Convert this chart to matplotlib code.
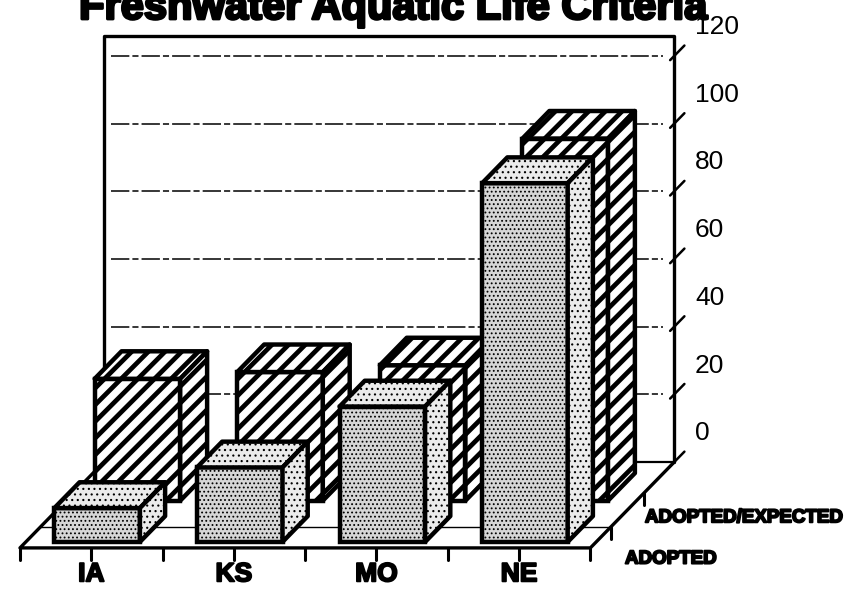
import matplotlib
matplotlib.use("Agg")
import matplotlib.pyplot as plt
import matplotlib.patheffects as pe
from matplotlib.patches import Polygon


states = ["IA", "KS", "MO", "NE"]
adopted = [10, 22, 40, 106]
adopted_expected = [36, 38, 40, 107]
row_labels = ["ADOPTED", "ADOPTED/EXPECTED"]
y_ticks = [0, 20, 40, 60, 80, 100, 120]
title = "Freshwater Aquatic Life Criteria"

# oblique projection: shift for one unit of depth (x in categories, y in values)
DX, DY = 0.589, 25.4
WALL_TOP = 126
BAR_W = 0.6

plt.rcParams["font.family"] = ["Liberation Sans", "DejaVu Sans"]
plt.rcParams["hatch.linewidth"] = 0.8

fig = plt.figure(figsize=(8.57, 5.98), dpi=100)
ax = fig.add_axes([0, 0, 1, 1])
ax.set_xlim(-0.64, 5.37)
ax.set_ylim(-14.8, 161.9)
ax.axis("off")


def P(x, y, z):
    return (x + DX * z, y + DY * z)


def line3(pts, **kw):
    xy = [P(*p) for p in pts]
    kw.setdefault("color", "black")
    ax.plot([a for a, b in xy], [b for a, b in xy], solid_capstyle="round", **kw)


def hatch_lw(patch, lw):
    try:
        patch.set_hatch_linewidth(lw)
    except AttributeError:
        pass


# back wall
for v in y_ticks[1:]:
    line3([(-0.45, v, 1), (3.42, v, 1)], lw=1.1, ls=(0, (12, 2, 4, 2)), zorder=1)
line3([(-0.5, 0, 1), (-0.5, WALL_TOP, 1), (3.5, WALL_TOP, 1), (3.5, 0, 1)],
      lw=2.4, zorder=2, solid_joinstyle="round")
for v in y_ticks:
    line3([(3.5, v, 0.95), (3.5, v, 1.12)], lw=1.8, zorder=2)
    x, y = P(3.5 + 0.145, v + 8.5, 1)
    ax.text(x, y, str(v), ha="left", va="center", fontsize=19, zorder=2)

# floor
floor = [P(-0.5, 0, 0), P(3.5, 0, 0), P(3.5, 0, 1), P(-0.5, 0, 1)]
ax.add_patch(Polygon(floor, closed=True, facecolor="white", edgecolor="none", zorder=1.5))
line3([(-0.5, 0, 1), (3.5, 0, 1)], lw=1.6, zorder=1.6)
line3([(-0.5, 0, 0.24), (3.5, 0, 0.24)], lw=1.0, zorder=1.6)
line3([(-0.5, 0, 1), (-0.5, 0, 0), (3.5, 0, 0), (3.5, 0, 1)], lw=2.4, zorder=1.7,
      solid_joinstyle="round")
for i in range(2 * len(states) + 1):
    x = -0.5 + 0.5 * i
    line3([(x, 0, 0), (x, -3.6, 0)], lw=2.2, zorder=1.7)
for z in [0.245, 0.64]:
    line3([(3.5, 0, z), (3.5, -3.6, z)], lw=2.2, zorder=1.7)


def box(xc, h, z0, z1, style, zo):
    x0, x1 = xc - BAR_W / 2, xc + BAR_W / 2
    top = [P(x0, h, z0), P(x1, h, z0), P(x1, h, z1), P(x0, h, z1)]
    side = [P(x1, 0, z0), P(x1, 0, z1), P(x1, h, z1), P(x1, h, z0)]
    if style == "dots":
        faces = [("#d6d6d6", "...."), ("#ebebeb", "..."), ("#ebebeb", "...")]
        hlw = 0.8
    else:
        faces = [("white", "//"), ("white", "//"), ("white", "//")]
        hlw = 3.4
    bars = ax.bar(P(xc, 0, z0)[0], h, width=BAR_W, bottom=DY * z0,
                  color=faces[0][0], hatch=faces[0][1], edgecolor="black",
                  linewidth=3.2, zorder=zo)
    for b in bars:
        hatch_lw(b, hlw)
    for pts, (fc, ht) in zip([top, side], faces[1:]):
        p = Polygon(pts, closed=True, facecolor=fc, hatch=ht, edgecolor="black",
                    linewidth=3.2, joinstyle="round", zorder=zo)
        hatch_lw(p, hlw)
        ax.add_patch(p)


for i, v in enumerate(adopted_expected):
    box(i, v, 0.55, 0.87, "lines", 3)
for i, v in enumerate(adopted):
    box(i, v, 0.07, 0.37, "dots", 5)

stroke = [pe.withStroke(linewidth=1.4, foreground="black")]
for i, s in enumerate(states):
    ax.text(i, -7.8, s, ha="center", va="center", fontsize=19, fontweight="bold",
            path_effects=stroke)

ax.text(3.743, -3.3, row_labels[0], ha="left", va="center", fontsize=13.5,
        fontweight="bold", path_effects=stroke)
ax.text(3.883, 8.9, row_labels[1], ha="left", va="center", fontsize=13.5,
        fontweight="bold", path_effects=stroke)

fig.text(0.459, 1 - 19 / 598, title, ha="center", va="baseline", fontsize=30,
         fontweight="bold", path_effects=[pe.withStroke(linewidth=2, foreground="black")])

fig.savefig("out.png", dpi=100)
